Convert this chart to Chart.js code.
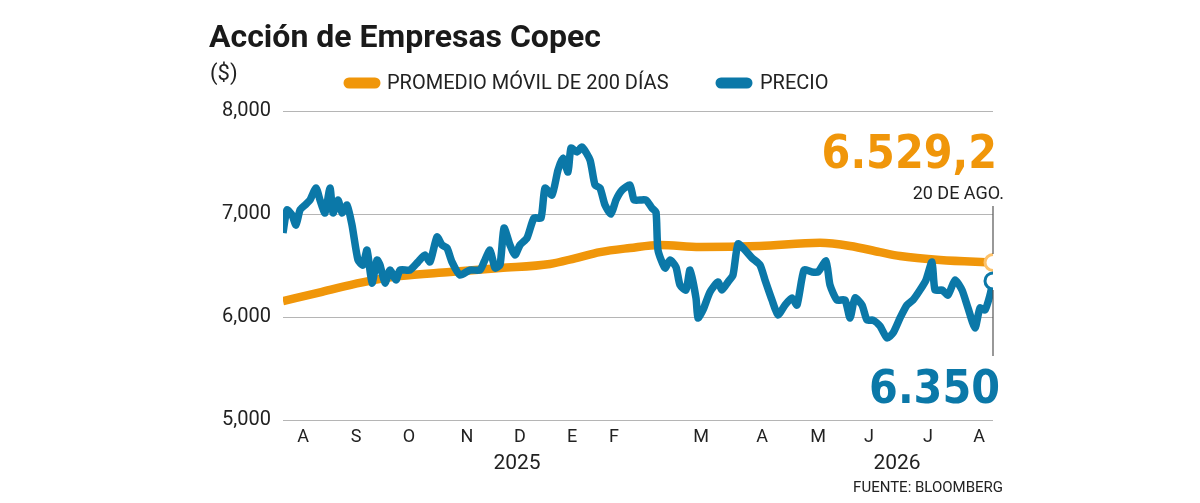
<!DOCTYPE html>
<html><head><meta charset="utf-8">
<script src="https://cdn.jsdelivr.net/npm/chart.js"></script>
<style>html,body{margin:0;background:#fff}#c{display:block}</style>
</head><body>
<div style="width:1200px;height:503px"><canvas id="c"></canvas></div>
<script>
// x positions are in "plot units" spanning Aug 2025 -> 20 Aug 2026
const precio = [
  [283,6816],[287,7039],[292,6990],[296,6893],[300,7039],[305,7087],[310,7136],[316,7252],[320,7136],[325,7010],
  [330,7252],[333,7010],[338,7136],[342,7010],[347,7087],[352,6893],[358,6553],[363,6505],[367,6650],[372,6330],
  [377,6553],[380,6505],[385,6330],[390,6456],[396,6359],[400,6456],[410,6456],[418,6534],[425,6602],[430,6534],
  [437,6777],[442,6699],[447,6670],[452,6534],[460,6408],[470,6456],[480,6456],[484,6534],[490,6650],[495,6476],
  [500,6505],[504,6864],[510,6699],[515,6602],[520,6699],[527,6767],[534,6961],[541,6961],[545,7252],[552,7184],
  [558,7427],[563,7543],[568,7407],[571,7640],[577,7602],[582,7650],[590,7524],[595,7282],[600,7252],[605,7087],
  [611,7000],[616,7136],[622,7232],[630,7281],[634,7136],[640,7136],[646,7136],[652,7058],[656,7019],[658,6650],
  [665,6476],[670,6553],[676,6485],[680,6310],[686,6262],[690,6456],[696,6184],[698,5990],[703,6068],[710,6243],
  [718,6340],[722,6262],[728,6340],[733,6408],[738,6709],[745,6650],[752,6573],[760,6505],[765,6360],[772,6165],
  [778,6019],[785,6116],[792,6184],[797,6116],[804,6456],[812,6437],[818,6437],[826,6544],[830,6310],[837,6165],
  [845,6165],[850,5990],[855,6184],[862,6116],[867,5970],[873,5970],[880,5912],[887,5796],[893,5844],[900,5990],
  [907,6116],[913,6165],[920,6262],[926,6360],[932,6534],[935,6262],[942,6262],[948,6213],[955,6360],[962,6262],
  [968,6087],[975,5893],[980,6087],[985,6068],[990,6213],[993,6350]
];
const promedio = [
  [283,6155],[320,6240],[350,6310],[375,6360],[400,6398],[450,6437],[500,6475],[550,6515],[575,6570],[600,6630],
  [630,6670],[660,6700],[700,6680],[760,6690],[820,6720],[850,6690],[880,6630],[900,6592],[940,6553],[993,6529]
];
const meses = [[303,'A'],[356,'S'],[409,'O'],[467,'N'],[520,'D'],[572,'E'],[614,'F'],[701,'M'],[762,'A'],[818,'M'],[869,'J'],[928,'J'],[979,'A']];
const NAR = '#f0960a', AZ = '#0b78a8';
const font = 'Roboto, "Noto Sans", sans-serif';
const cond = '"DejaVu Sans Condensed", "Liberation Sans Narrow", sans-serif';

const deco = {
  id: 'deco',
  afterDatasetsDraw(ch) {
    const c = ch.ctx;
    c.save();
    c.fillStyle = '#1a1a1a';
    c.font = 'bold 32px ' + font; c.textBaseline = 'alphabetic';
    c.fillText('Acción de Empresas Copec', 209, 47);
    c.font = '22px ' + font; c.fillStyle = '#222';
    c.fillText('($)', 210, 80);
    // legend
    c.lineCap = 'round'; c.lineWidth = 11;
    c.strokeStyle = NAR; c.beginPath(); c.moveTo(349, 83); c.lineTo(375, 83); c.stroke();
    c.strokeStyle = AZ; c.beginPath(); c.moveTo(721, 83); c.lineTo(747, 83); c.stroke();
    c.font = '20px ' + font; c.fillStyle = '#222'; c.textBaseline = 'middle';
    c.fillText('PROMEDIO MÓVIL DE 200 DÍAS', 387, 84);
    c.fillText('PRECIO', 760, 84);
    // months
    c.textAlign = 'center'; c.font = '18px ' + font;
    meses.forEach(m => c.fillText(m[1], ch.scales.x.getPixelForValue(m[0]), 437));
    c.font = '21px ' + font;
    c.fillText('2025', 517, 464); c.fillText('2026', 897, 464);
    c.textAlign = 'right'; c.font = '15px ' + font;
    c.fillText('FUENTE: BLOOMBERG', 1003, 488);
    // end annotations
    const ex = ch.scales.x.getPixelForValue(993);
    c.strokeStyle = '#555'; c.lineWidth = 1.2; c.lineCap = 'butt';
    c.beginPath(); c.moveTo(ex, 206); c.lineTo(ex, 254); c.moveTo(ex, 290); c.lineTo(ex, 356); c.stroke();
    c.textBaseline = 'alphabetic';
    c.font = '18px ' + font; c.fillStyle = '#222';
    c.fillText('20 DE AGO.', 1004, 199);
    c.font = 'bold 46px ' + cond; c.fillStyle = NAR;
    c.fillText('6.529,2', 997, 168);
    c.fillStyle = AZ;
    c.fillText('6.350', 1000, 403);
    c.restore();
  }
};

const last = n => ctx => ctx.dataIndex === n - 1 ? 8 : 0;
new Chart(document.getElementById('c'), {
  type: 'line',
  data: { datasets: [
    { label: 'PRECIO', data: precio.map(p => ({x: p[0], y: p[1]})), borderColor: AZ, borderWidth: 7.5,
      tension: 0.2, pointRadius: last(precio.length), pointBackgroundColor: '#fff', pointBorderColor: AZ, pointBorderWidth: 3, order: 1 },
    { label: 'PROMEDIO MÓVIL DE 200 DÍAS', data: promedio.map(p => ({x: p[0], y: p[1]})), borderColor: NAR, borderWidth: 8.5,
      tension: 0.4, cubicInterpolationMode: 'monotone', pointRadius: last(promedio.length), pointBackgroundColor: '#fff', pointBorderColor: '#fdc26b', pointBorderWidth: 3, order: 2 }
  ]},
  options: {
    responsive: true, maintainAspectRatio: false, animation: false,
    layout: { padding: { left: 200, right: 207, top: 111, bottom: 0 } },
    plugins: { legend: { display: false }, tooltip: { enabled: false } },
    scales: {
      x: { type: 'linear', min: 283, max: 993, grid: { display: false }, border: { display: false },
           ticks: { display: false }, afterFit: s => { s.height = 83; } },
      y: { min: 5000, max: 8000, afterFit: s => { s.width = 83; },
           afterBuildTicks: s => { s.ticks = [5000, 6000, 7000, 8000].map(v => ({value: v})); },
           border: { display: false },
           grid: { color: '#b5b5b5', lineWidth: 1, drawTicks: false, tickBorderDash: [0], borderDash: [3, 3] },
           ticks: { color: '#222', font: { size: 20, family: 'Roboto' }, padding: 12 } }
    },
    elements: { line: { borderDash: [] } }
  },
  plugins: [deco, { id: 'dash', beforeDraw(ch) { ch.scales.y.options.grid.borderDash = [3, 3]; } }]
});
</script>
</body></html>
